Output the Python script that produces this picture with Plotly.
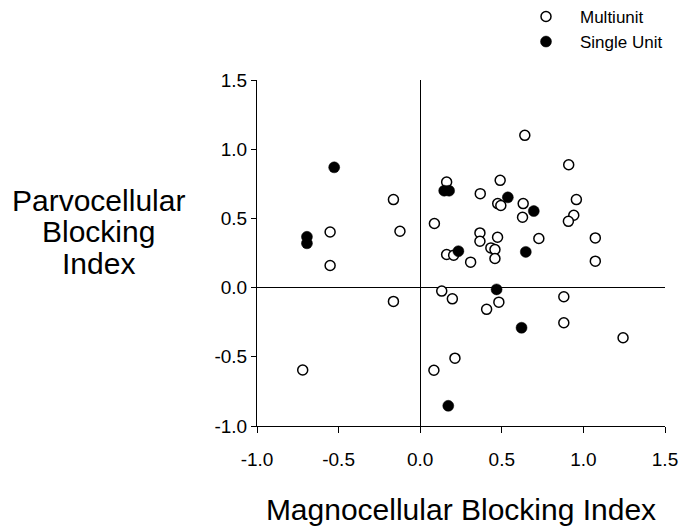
import plotly.graph_objects as go

# Multiunit recordings (open circles)
multi_x = [-0.72, -0.552, -0.552, -0.164, -0.124, -0.164, 0.087, 0.084, 0.162, 0.162,
           0.205, 0.132, 0.197, 0.213, 0.309, 0.368, 0.366, 0.366, 0.407, 0.433,
           0.458, 0.458, 0.474, 0.475, 0.494, 0.49, 0.482, 0.631, 0.627, 0.641,
           0.727, 0.88, 0.88, 0.91, 0.957, 0.941, 0.908, 1.073, 1.073, 1.243]
multi_y = [-0.595, 0.402, 0.16, 0.636, 0.407, -0.10, 0.463, -0.597, 0.763, 0.239,
           0.234, -0.025, -0.081, -0.51, 0.184, 0.679, 0.395, 0.335, -0.157, 0.287,
           0.275, 0.21, 0.364, 0.607, 0.593, 0.775, -0.105, 0.607, 0.508, 1.10,
           0.355, -0.066, -0.254, 0.888, 0.636, 0.523, 0.479, 0.359, 0.191, -0.362]

# Single-unit recordings (filled circles)
single_x = [-0.527, -0.694, -0.694, 0.147, 0.177, 0.537, 0.696, 0.234, 0.647, 0.468, 0.621, 0.172]
single_y = [0.869, 0.367, 0.32, 0.70, 0.70, 0.652, 0.553, 0.263, 0.258, -0.013, -0.29, -0.854]

tick_vals = [-1.0, -0.5, 0.0, 0.5, 1.0, 1.5]
tick_text = ["-1.0", "-0.5", "0.0", "0.5", "1.0", "1.5"]

FONT = "Liberation Sans, Arial, Helvetica, sans-serif"
W, H = 681, 529

fig = go.Figure()
fig.add_trace(go.Scatter(
    x=multi_x, y=multi_y, mode="markers", name="Multiunit", legend="legend",
    marker=dict(symbol="circle", size=10, color="white",
                line=dict(color="black", width=1.5)),
))
fig.add_trace(go.Scatter(
    x=single_x, y=single_y, mode="markers", name="Single Unit", legend="legend2",
    marker=dict(symbol="circle", size=11, color="black",
                line=dict(color="black", width=0.5)),
))

axis_common = dict(
    range=[-1, 1.5], tickvals=tick_vals, ticktext=tick_text,
    showgrid=False, showline=True, linecolor="black", linewidth=1,
    zeroline=True, zerolinecolor="black", zerolinewidth=1,
    ticks="outside", tickcolor="black", tickwidth=1,
    tickfont=dict(family=FONT, size=19, color="black"),
    fixedrange=True, automargin=False,
)

fig.update_xaxes(**axis_common, ticklen=6, ticklabelstandoff=10,
                 title=dict(text="Magnocellular Blocking Index",
                            font=dict(family=FONT, size=30, color="black"),
                            standoff=30))
fig.update_yaxes(**axis_common, ticklen=5)

# Unrotated three-line y-axis label
for txt, ypix in [("Parvocellular", 200), ("Blocking", 231), ("Index", 263)]:
    fig.add_annotation(text=txt, xref="paper", yref="paper",
                       x=(98 - 257) / 408, y=(426 - ypix) / 346,
                       xanchor="center", yanchor="middle", showarrow=False,
                       font=dict(family=FONT, size=30, color="black"))

legend_style = dict(font=dict(family=FONT, size=17, color="black"),
                    bgcolor="rgba(0,0,0,0)", borderwidth=0,
                    xref="container", yref="container",
                    xanchor="left", yanchor="middle", itemwidth=58)

fig.update_layout(
    width=W, height=H,
    margin=dict(l=257, r=16, t=80, b=103, autoexpand=False),
    paper_bgcolor="white", plot_bgcolor="white",
    legend=dict(**legend_style, x=512 / W, y=(H - 17) / H),
    legend2=dict(**legend_style, x=512 / W, y=(H - 42) / H),
    showlegend=True,
)

fig.write_html("out.html")
